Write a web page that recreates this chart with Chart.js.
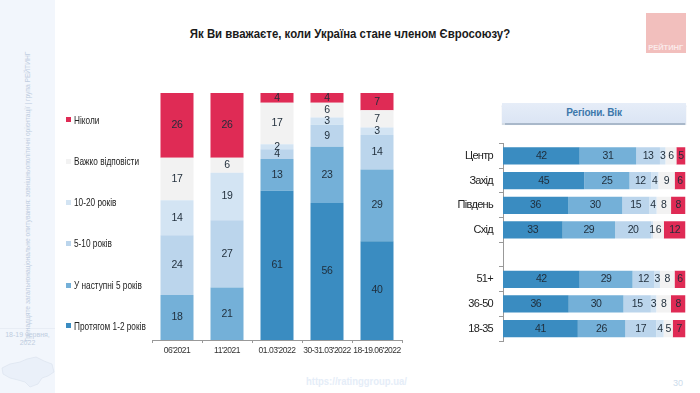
<!DOCTYPE html>
<html>
<head>
<meta charset="utf-8">
<script src="https://cdn.jsdelivr.net/npm/chart.js@4"></script>
<style>
html, body { margin: 0; padding: 0; background: #fff; }
body { width: 700px; height: 393px; position: relative; overflow: hidden; font-family: "Liberation Sans", Arial, sans-serif; }
.abs { position: absolute; white-space: nowrap; }
#sidebar { left: 0; top: 0; width: 55px; height: 393px; background: #f2f6fc; }
#sideLine { left: 0; top: 328px; width: 55px; height: 1px; background: #e8edf5; }
#sideText { left: 27px; top: 196.5px; transform: translate(-50%, -50%) rotate(-90deg) scaleX(0.83); font-size: 8px; color: #c0cde0; }
#sideDate { left: 0; top: 331px; width: 55px; text-align: center; white-space: normal; font-size: 7px; line-height: 8px; color: #c0cde0; }
#map { left: 0; top: 354px; }
#title { left: 0; top: 26px; width: 700px; text-align: center; font-size: 13px; font-weight: bold; color: #1a1a1a; transform: scaleX(0.877); }
#logo { left: 646px; top: 13px; width: 39.5px; height: 39.5px; background: #f2bfbd; }
#logoText { left: 646px; top: 43px; width: 39.5px; text-align: center; font-weight: bold; font-size: 7.5px; color: #fbeaea; }
#panel { left: 502px; top: 103px; width: 184px; height: 20px; line-height: 20px; text-align: center; background: linear-gradient(#e6edf8, #dbe5f4); box-shadow: 0 1.5px 1px #a9b8ca; font-size: 10px; letter-spacing: -0.2px; font-weight: bold; color: #3d78ab; }
#url { left: 306px; top: 375px; font-size: 11px; font-weight: bold; color: #e5edf8; transform: scaleX(0.86); transform-origin: left; }
#page { left: 673px; top: 378px; font-size: 9px; color: #cddcec; }
.legendBox { width: 5px; height: 5px; left: 66px; }
.legendText { left: 74px; font-size: 11px; line-height: 12px; color: #222; transform: scaleX(0.75); transform-origin: left; }
canvas { position: absolute; }
</style>
</head>
<body>
<div class="abs" id="sidebar"></div>
<div class="abs" id="sideLine"></div>
<div class="abs" id="sideText">Тринадцяте загальнонаціональне опитування: зовнішньополітичні орієнтації | група РЕЙТИНГ</div>
<div class="abs" id="sideDate">18-19 червня, 2022</div>
<svg class="abs" id="map" width="55" height="39"><path d="M2 14 L10 10 L20 8 L27 5 L36 3 L44 7 L52 10 L54 18 L48 22 L42 24 L38 30 L30 33 L25 28 L18 26 L10 24 L3 20 Z" fill="#eaf0f9" stroke="#d8e0ec" stroke-width="0.6"/></svg>
<div class="abs" id="title">Як Ви вважаєте, коли Україна стане членом Євросоюзу?</div>
<div class="abs" id="logo"></div>
<div class="abs" id="logoText">РЕЙТИНГ</div>
<div class="abs" id="panel">Регіони. Вік</div>
<div class="abs" id="url">https://ratinggroup.ua/</div>
<div class="abs" id="page">30</div>
<canvas id="trendChart" style="left:142px;top:83px"></canvas>
<canvas id="groupChart" style="left:440px;top:131px"></canvas>
<script>
// answer options, from the bottom / left of the stack
const seriesNames = ["Протягом 1-2 років", "У наступні 5 років", "5-10 років", "10-20 років", "Важко відповісти", "Ніколи"];
const seriesColors = ["#3a8cc1", "#74b0d8", "#bbd5ec", "#d3e4f3", "#f2f2f2", "#df2b55"];

// Left chart: by survey wave
const waves = ["06'2021", "11'2021", "01.03'2022", "30-31.03'2022", "18-19.06'2022"];
const waveYears12 = [null, null, 61, 56, 40];
const waveNext5 = [18, 21, 13, 23, 29];
const waveYears510 = [24, 27, 4, 9, 14];
const waveYears1020 = [14, 19, 2, 3, 3];
const waveHard = [17, 6, 17, 6, 7];
const waveNever = [26, 26, 4, 4, 7];

// Right chart: regions and ages, the empty row is the gap between them
const groups = ["Центр", "Захід", "Південь", "Схід", "", "51+", "36-50", "18-35"];
const groupYears12 = [42, 45, 36, 33, null, 42, 36, 41];
const groupNext5 = [31, 25, 30, 29, null, 29, 30, 26];
const groupYears510 = [13, 12, 15, 20, null, 12, 15, 17];
const groupYears1020 = [3, 4, 4, 1, null, 3, 3, 4];
const groupHard = [6, 9, 8, 6, null, 8, 8, 5];
const groupNever = [5, 6, 8, 12, null, 6, 8, 7];

const legendY = [325.5, 285, 243, 202, 161, 119.5];
const fontName = '"Liberation Sans", Arial, sans-serif';

// bars are 100% stacked in the original, rows that sum to 99 or 101 still fill the axis
function makeDatasets(rows) {
    const totals = rows[0].map((_, i) => rows.reduce((sum, r) => sum + (r[i] || 0), 0));
    return rows.map((r, k) => ({
        label: seriesNames[k],
        raw: r,
        data: r.map((v, i) => v === null ? null : v / totals[i] * 100),
        backgroundColor: seriesColors[k],
        borderWidth: 0
    }));
}

// the source uses a condensed face, no such font here so tighten the canvas text
const tightText = {
    id: "tightText",
    beforeDraw(chart, args, opts) {
        chart.ctx.letterSpacing = opts.spacing + "px";
    }
};

// the value printed in the middle of every segment
const valueLabels = {
    id: "valueLabels",
    afterDatasetsDraw(chart, args, opts) {
        const ctx = chart.ctx;
        ctx.save();
        ctx.letterSpacing = "-0.4px";
        ctx.font = opts.size + "px " + fontName;
        ctx.fillStyle = "#1f2d3a";
        ctx.textAlign = "center";
        ctx.textBaseline = "middle";
        chart.data.datasets.forEach((ds, k) => {
            chart.getDatasetMeta(k).data.forEach((bar, i) => {
                if (ds.raw[i] === null) return;
                const c = bar.getCenterPoint();
                ctx.fillText(ds.raw[i], c.x, c.y);
            });
        });
        ctx.restore();
    }
};

function baseOptions() {
    return {
        responsive: false,
        animation: false,
        plugins: { legend: { display: false }, tooltip: { enabled: false } }
    };
}

const trendOpts = baseOptions();
trendOpts.layout = { padding: { left: 10, right: 10, top: 10, bottom: 0 } };
trendOpts.plugins.tightText = { spacing: -0.5 };
trendOpts.plugins.valueLabels = { size: 10.5 };
trendOpts.scales = {
    x: {
        stacked: true,
        afterFit(scale) { scale.height = 20; },
        grid: { drawOnChartArea: false, color: "#999", tickLength: 3 },
        border: { color: "#999" },
        ticks: { color: "#333", font: { family: fontName, size: 8.5 }, padding: 3, maxRotation: 0, autoSkip: false }
    },
    y: { stacked: true, display: false, min: 0, max: 100 }
};

const trendCanvas = document.getElementById("trendChart");
trendCanvas.width = 270;
trendCanvas.height = 277;
new Chart(trendCanvas, {
    type: "bar",
    data: {
        labels: waves,
        datasets: makeDatasets([waveYears12, waveNext5, waveYears510, waveYears1020, waveHard, waveNever])
            .map(ds => Object.assign(ds, { barPercentage: 0.66, categoryPercentage: 1 }))
    },
    options: trendOpts,
    plugins: [tightText, valueLabels]
});

const groupOpts = baseOptions();
groupOpts.indexAxis = "y";
groupOpts.layout = { padding: { left: 0, right: 10.5, top: 10, bottom: 15 } };
groupOpts.plugins.tightText = { spacing: -0.7 };
groupOpts.plugins.valueLabels = { size: 10.5 };
groupOpts.scales = {
    x: { stacked: true, display: false, min: 0, max: 100 },
    y: {
        stacked: true,
        afterFit(scale) { scale.width = 63; },
        grid: { drawOnChartArea: false, color: "#999", tickLength: 4 },
        border: { color: "#999" },
        ticks: { color: "#222", font: { family: fontName, size: 11 }, padding: 6, autoSkip: false }
    }
};

const groupCanvas = document.getElementById("groupChart");
groupCanvas.width = 256;
groupCanvas.height = 225;
new Chart(groupCanvas, {
    type: "bar",
    data: {
        labels: groups,
        datasets: makeDatasets([groupYears12, groupNext5, groupYears510, groupYears1020, groupHard, groupNever])
            .map(ds => Object.assign(ds, { barPercentage: 0.7, categoryPercentage: 1 }))
    },
    options: groupOpts,
    plugins: [tightText, valueLabels]
});

// Legend
seriesNames.forEach((name, k) => {
    const box = document.createElement("div");
    box.className = "abs legendBox";
    box.style.top = (legendY[k] - 2.5) + "px";
    box.style.background = seriesColors[k];
    document.body.appendChild(box);

    const text = document.createElement("div");
    text.className = "abs legendText";
    text.style.top = (legendY[k] - 6) + "px";
    text.textContent = name;
    document.body.appendChild(text);
});
</script>
</body>
</html>
